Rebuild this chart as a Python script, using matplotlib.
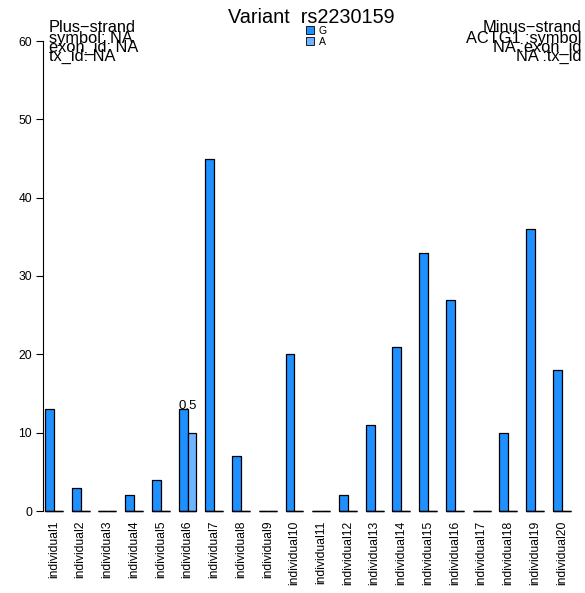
import matplotlib
matplotlib.use("Agg")
import matplotlib.pyplot as plt
from matplotlib.patches import Patch
import numpy as np

# data
individuals = ["individual%d" % i for i in range(1, 21)]
g_counts = [13, 3, 0, 2, 4, 13, 45, 7, 0, 20, 0, 2, 11, 21, 33, 27, 0, 10, 36, 18]
a_counts = [0, 0, 0, 0, 0, 10, 0, 0, 0, 0, 0, 0, 0, 0, 0, 0, 0, 0, 0, 0]
allele_labels = ["G", "A"]
y_ticks = [0, 10, 20, 30, 40, 50, 60]
title = "Variant  rs2230159"
plus_lines = ["Plus\u2212strand", "symbol: NA", "exon_id: NA", "tx_id: NA"]
minus_lines = ["Minus\u2212strand", "ACTG1 :symbol", "NA :exon_id", "NA :tx_id"]
annot_group = 5
annot_text = "0.5"

colors = ["#1E90FF", "#70B5FF"]
W, H = 585, 593
plt.rcParams["font.family"] = ["Liberation Sans", "DejaVu Sans"]

fig = plt.figure(figsize=(W / 100, H / 100), dpi=100)

# axes placed in pixel units: left=43, right=585, y0 at 511, y60 at 41
ax = fig.add_axes([43 / W, 1 - 511 / H, (585 - 43) / W, (511 - 41) / H])

n = len(individuals)
g_left = np.arange(n) * 3 + 1
a_left = g_left + 1
ax.bar(g_left, g_counts, width=1, align="edge", color=colors[0],
       edgecolor="black", linewidth=0.9, zorder=2, clip_on=False)
ax.bar(a_left, a_counts, width=1, align="edge", color=colors[1],
       edgecolor="black", linewidth=0.9, zorder=2, clip_on=False)
# bottom edges (zero-height bars show up as flat lines in the original)
ax.hlines(np.zeros(2 * n), np.r_[g_left, a_left], np.r_[g_left, a_left] + 1,
          color="black", linewidth=1.0, zorder=3, clip_on=False)

ax.set_xlim(0.775, 0.775 + 542 / 8.91)
ax.set_ylim(0, 60)

for s in ["top", "right", "bottom"]:
    ax.spines[s].set_visible(False)
ax.spines["left"].set_bounds(0, 60)
ax.spines["left"].set_linewidth(0.8)
ax.set_yticks(y_ticks)
ax.set_yticklabels([str(v) for v in y_ticks], fontsize=8.7)
ax.tick_params(axis="y", length=5, width=0.8, pad=3)

centers = g_left + 1
ax.set_xticks(centers)
ax.set_xticklabels(individuals, rotation=90, fontsize=8.7)
ax.tick_params(axis="x", length=0, pad=7)

ax.text(centers[annot_group], max(g_counts[annot_group], a_counts[annot_group]),
        annot_text, ha="center", va="baseline", fontsize=9.5)

# title and strand annotations in pixel coordinates
def fig_xy(px, py):
    return px / W, 1 - py / H

fig.text(*fig_xy(311, 23), title, ha="center", va="baseline", fontsize=14.3)

baselines = [32, 43, 52, 61]
for txt, yb in zip(plus_lines, baselines):
    fig.text(*fig_xy(49, yb), txt, ha="left", va="baseline", fontsize=11.8)
for txt, yb in zip(minus_lines, baselines):
    fig.text(*fig_xy(581, yb), txt, ha="right", va="baseline", fontsize=11.8)

handles = [Patch(facecolor=c, edgecolor="black", linewidth=0.6) for c in colors]
fig.legend(handles, allele_labels, loc="upper left",
           bbox_to_anchor=fig_xy(306, 26), frameon=False, fontsize=7.5,
           handlelength=0.8, handleheight=0.8, labelspacing=0.05,
           borderpad=0, handletextpad=0.4, borderaxespad=0)

fig.savefig("out.png", dpi=100)
